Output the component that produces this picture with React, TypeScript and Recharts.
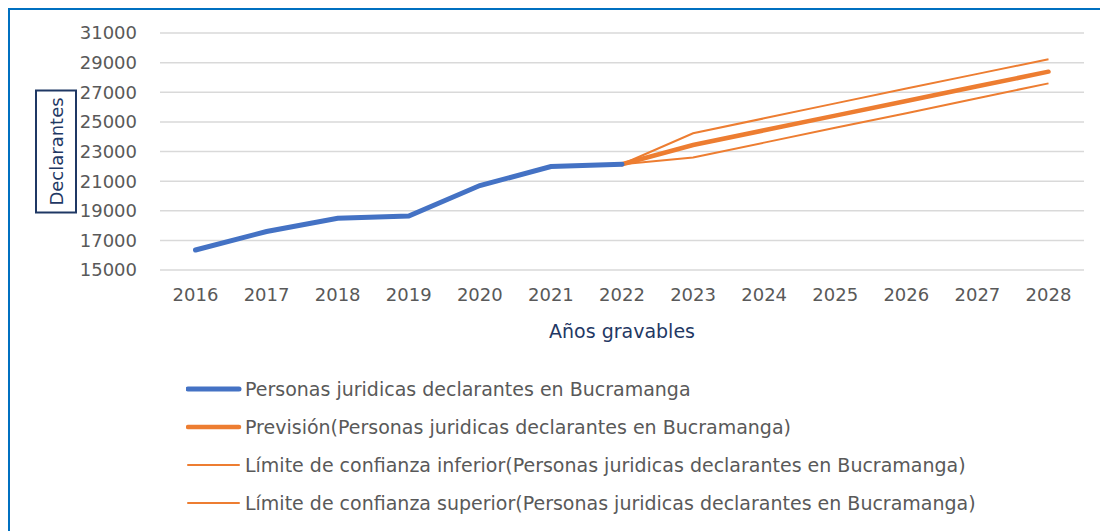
import { CartesianGrid, Legend, Line, LineChart, XAxis, YAxis } from 'recharts';

const FONT = '"DejaVu Sans", sans-serif';

const COLORS = {
  blue: '#4472C4',
  orange: '#ED7D31',
  grid: '#D9D9D9',
  text: '#595959',
  navy: '#1F3864',
  frame: '#0070C0',
};

const years = ['2016', '2017', '2018', '2019', '2020', '2021', '2022', '2023', '2024', '2025', '2026', '2027', '2028'];
const declarantes = [16350, 17600, 18490, 18650, 20700, 21980, 22140, null, null, null, null, null, null];
const prevision = [null, null, null, null, null, null, 22140, 23440, 24430, 25420, 26410, 27400, 28390];
const limiteInferior = [null, null, null, null, null, null, 22140, 22600, 23600, 24600, 25580, 26600, 27600];
const limiteSuperior = [null, null, null, null, null, null, 22140, 24230, 25240, 26250, 27250, 28240, 29230];
const yTicks = [15000, 17000, 19000, 21000, 23000, 25000, 27000, 29000, 31000];

const data = years.map((year, i) => ({
  year,
  declarantes: declarantes[i],
  prevision: prevision[i],
  inferior: limiteInferior[i],
  superior: limiteSuperior[i],
}));

const legendItems = [
  { label: 'Personas juridicas declarantes en Bucramanga', color: COLORS.blue, width: 5 },
  { label: 'Previsión(Personas juridicas declarantes en Bucramanga)', color: COLORS.orange, width: 4.5 },
  { label: 'Límite de confianza inferior(Personas juridicas declarantes en Bucramanga)', color: COLORS.orange, width: 2 },
  { label: 'Límite de confianza superior(Personas juridicas declarantes en Bucramanga)', color: COLORS.orange, width: 2 },
];

function LegendList() {
  return (
    <div style={{ height: 151, paddingLeft: 176, fontFamily: FONT, fontSize: 19, color: COLORS.text }}>
      {legendItems.map((item) => (
        <div key={item.label} style={{ height: 38, display: 'flex', alignItems: 'center' }}>
          <svg width={59} height={10} style={{ flex: 'none' }}>
            <line x1={2} y1={5} x2={53} y2={5} stroke={item.color} strokeWidth={item.width} strokeLinecap="round" />
          </svg>
          <span style={{ whiteSpace: 'nowrap' }}>{item.label}</span>
        </div>
      ))}
    </div>
  );
}

function YLabel({ viewBox }: any) {
  const cy = viewBox.y + viewBox.height / 2;
  const cx = viewBox.x + 46;
  return (
    <g>
      <rect x={cx - 20} y={cy - 61} width={40} height={122} fill="#fff" stroke={COLORS.navy} strokeWidth={2} />
      <text
        x={cx}
        y={cy}
        transform={`rotate(-90 ${cx} ${cy})`}
        textAnchor="middle"
        dominantBaseline="central"
        fill={COLORS.navy}
        fontSize={18}
        fontFamily={FONT}
      >
        Declarantes
      </text>
    </g>
  );
}

function XLabel({ viewBox }: any) {
  return (
    <text
      x={viewBox.x + viewBox.width / 2}
      y={viewBox.y + 61}
      textAnchor="middle"
      dominantBaseline="central"
      fill={COLORS.navy}
      fontSize={19}
      fontFamily={FONT}
    >
      Años gravables
    </text>
  );
}

export default function App() {
  return (
    <div
      style={{
        width: 1090,
        height: 521,
        borderTop: `2px solid ${COLORS.frame}`,
        borderLeft: `2px solid ${COLORS.frame}`,
        background: '#fff',
        fontFamily: FONT,
      }}
    >
      <style>{'body { margin: 8px 0 0 8px; overflow: hidden; }'}</style>
      <LineChart width={1090} height={521} data={data} margin={{ top: 23, right: 16, bottom: 10, left: 0 }}>
        <CartesianGrid vertical={false} stroke={COLORS.grid} strokeWidth={1.5} />
        <XAxis
          dataKey="year"
          axisLine={false}
          tickLine={false}
          tickMargin={12}
          height={100}
          padding={{ left: 35.5, right: 35.5 }}
          interval={0}
          tick={{ fill: COLORS.text, fontSize: 18, fontFamily: FONT }}
          label={{ content: XLabel }}
        />
        <YAxis
          domain={[15000, 31000]}
          ticks={yTicks}
          interval={0}
          axisLine={false}
          tickLine={false}
          tickMargin={17}
          width={150}
          tick={{ fill: COLORS.text, fontSize: 18, fontFamily: FONT }}
          label={{ content: YLabel }}
        />
        <Legend verticalAlign="bottom" align="left" content={() => <LegendList />} />
        <Line dataKey="superior" stroke={COLORS.orange} strokeWidth={2} dot={false} isAnimationActive={false} />
        <Line dataKey="inferior" stroke={COLORS.orange} strokeWidth={2} dot={false} isAnimationActive={false} />
        <Line
          dataKey="prevision"
          stroke={COLORS.orange}
          strokeWidth={4.5}
          strokeLinecap="round"
          dot={false}
          isAnimationActive={false}
        />
        <Line
          dataKey="declarantes"
          stroke={COLORS.blue}
          strokeWidth={5}
          strokeLinecap="round"
          dot={false}
          isAnimationActive={false}
        />
      </LineChart>
    </div>
  );
}
